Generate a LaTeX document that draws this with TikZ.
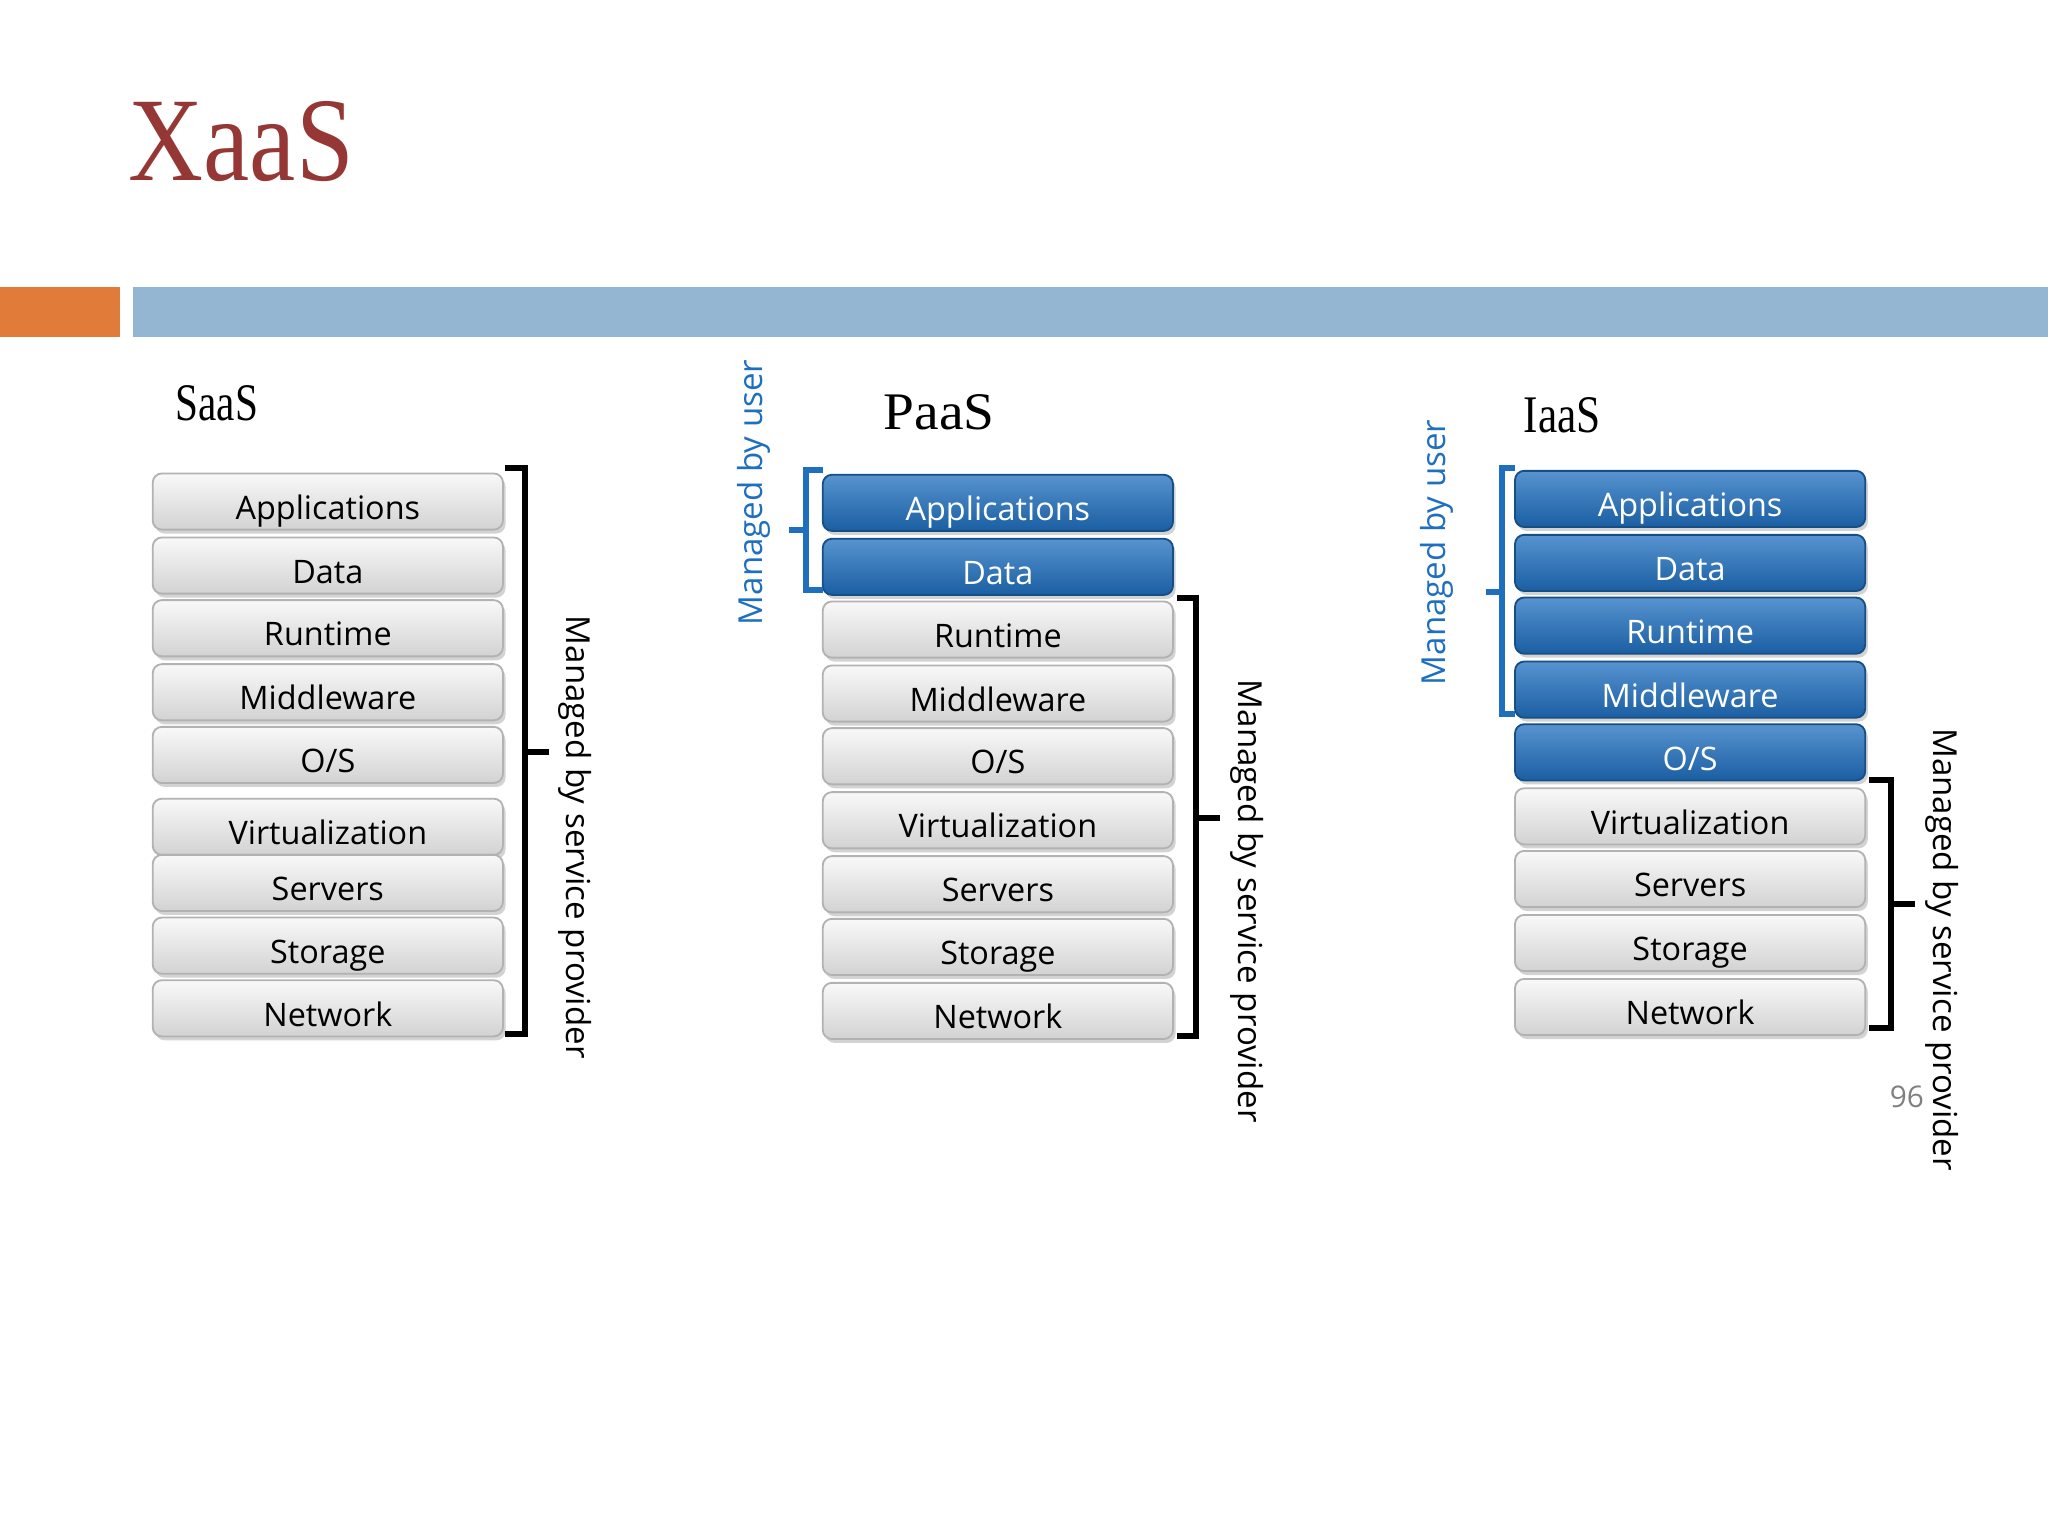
\documentclass[tikz,border=0pt]{standalone}
\usepackage{fontspec}
\setmainfont{Liberation Serif}
\newfontfamily\boxfont{Open Sans}
\usetikzlibrary{shadows}
\definecolor{tred}{HTML}{953735}
\definecolor{tor}{HTML}{E07B39}
\definecolor{tbl}{HTML}{94B6D2}
\definecolor{ublue}{HTML}{1F6FBF}
\tikzset{
 gbox/.style={draw=gray!60,rounded corners=2pt,minimum width=2.68cm,minimum height=0.43cm,
   top color=white!95!gray,bottom color=gray!35,font=\boxfont\fontsize{7.05}{8}\selectfont,
   text height=1.68ex,text depth=0pt,
   drop shadow={opacity=0.35,shadow xshift=0.02cm,shadow yshift=-0.03cm},inner sep=0pt},
 bbox/.style={gbox,draw=ublue!70!black,top color=ublue!75!white,bottom color=ublue!85!black,text=white},
 pbr/.style={line width=1.3pt,black},
 ubr/.style={line width=1.3pt,ublue},
 plab/.style={font=\boxfont\fontsize{7.2}{8}\selectfont,rotate=-90},
 ulab/.style={font=\boxfont\fontsize{7.2}{8}\selectfont,rotate=90,text=ublue},
 ctitle/.style={font=\fontsize{11.5}{12}\selectfont,anchor=west,inner sep=0}
}
\begin{document}
\begin{tikzpicture}[x=0.01cm,y=-0.01cm]
\useasboundingbox (0,0) rectangle (1568,1176);
\node[font=\fontsize{26}{28}\selectfont,text=tred,anchor=west,inner sep=0,xscale=0.87] (title) at (98,108) {XaaS};
\fill[tor] (0,220) rectangle (92,258);
\fill[tbl] (102,220) rectangle (1568,258);
\node[ctitle,xscale=0.78] (t1) at (134,309) {SaaS};
\node[ctitle,xscale=1.05] (t2) at (676,316) {PaaS};
\node[ctitle,xscale=0.82] (t3) at (1166,318) {IaaS};
% SaaS
\foreach \n/\t/\y in {a1/Applications/384,a2/Data/433,a3/Runtime/481,a4/Middleware/530,a5/O\slash S/578,a6/Virtualization/633,a7/Servers/676,a8/Storage/724,a9/Network/772}
  \node[gbox] (\n) at (251,\y) {\t};
% PaaS
\foreach \n/\t/\y/\s in {b1/Applications/385/bbox,b2/Data/434/bbox,b3/Runtime/482/gbox,b4/Middleware/531/gbox,b5/O\slash S/579/gbox,b6/Virtualization/628/gbox,b7/Servers/677/gbox,b8/Storage/725/gbox,b9/Network/774/gbox}
  \node[\s] (\n) at (764,\y) {\t};
% IaaS
\foreach \n/\t/\y/\s in {c1/Applications/382/bbox,c2/Data/431/bbox,c3/Runtime/479/bbox,c4/Middleware/528/bbox,c5/O\slash S/576/bbox,c6/Virtualization/625/gbox,c7/Servers/673/gbox,c8/Storage/722/gbox,c9/Network/771/gbox}
  \node[\s] (\n) at (1294,\y) {\t};
% brackets
\coordinate (s1) at (387,358); \coordinate (s2) at (387,792);
\draw[pbr] (s1) -| (402,576) |- (s2); \draw[pbr] (402,576) -- (420,576);
\node[plab] (sl) at (440,641) {Managed by service provider};
\draw[ubr] (630,360) -| (617,406) |- (630,452); \draw[ubr] (617,406) -- (604,406);
\node[ulab] (pl1) at (577,377) {Managed by user};
\draw[pbr] (901,458) -| (916,626) |- (901,793); \draw[pbr] (916,626) -- (934,626);
\node[plab] (pl2) at (955,690) {Managed by service provider};
\draw[ubr] (1160,358) -| (1150,453) |- (1160,547); \draw[ubr] (1150,453) -- (1138,453);
\node[ulab] (il1) at (1100,423) {Managed by user};
\draw[pbr] (1431,597) -| (1448,692) |- (1431,787); \draw[pbr] (1448,692) -- (1466,692);
\node[plab] (il2) at (1487,727) {Managed by service provider};
\node[font=\boxfont\fontsize{6.5}{7}\selectfont,text=gray] (pg) at (1460,840) {96};
\end{tikzpicture}
\end{document}
